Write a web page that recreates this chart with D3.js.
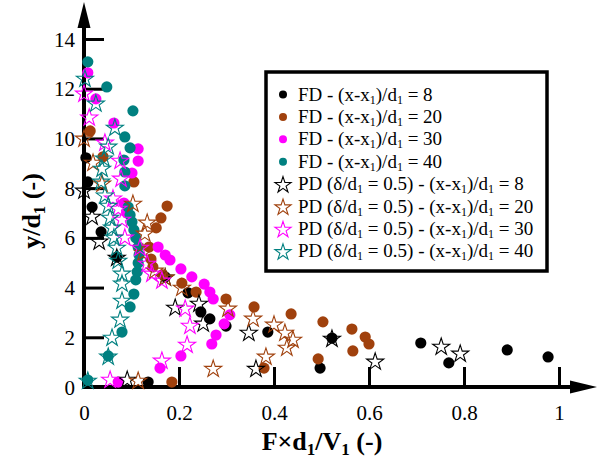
<!DOCTYPE html>
<html><head><meta charset="utf-8">
<script src="https://cdn.jsdelivr.net/npm/d3@7"></script>
<style>body{margin:0;background:#fff}svg{display:block}</style>
</head><body>
<svg id="c" width="600" height="461"></svg>
<script>
const xTicks=[0,0.2,0.4,0.6,0.8,1];
const xTickLabels=["0","0.2","0.4","0.6","0.8","1"];
const yTicks=[0,2,4,6,8,10,12,14];
const yTickLabels=["0","2","4","6","8","10","12","14"];

const fd8=[[0.004,9.22],[0.008,8.25],[0.017,7.24],[0.036,6.24],[0.069,5.23],[0.171,4.43],[0.219,3.79],[0.246,3.02],[0.265,2.74],[0.299,2.45],[0.387,2.21],[0.522,1.97],[0.497,0.76],[0.709,1.77],[0.768,0.97],[0.891,1.49],[0.977,1.21],[0.135,0.2]];
const fd20=[[0.013,10.3],[0.04,9.26],[0.105,8.25],[0.175,7.28],[0.162,6.8],[0.152,6.4],[0.137,5.63],[0.141,5.15],[0.145,4.83],[0.166,4.51],[0.206,4.18],[0.236,3.82],[0.299,3.54],[0.358,3.22],[0.436,2.94],[0.503,2.62],[0.564,2.33],[0.592,2.01],[0.6,1.73],[0.566,1.45],[0.493,1.13],[0.379,0.76],[0.185,0.2]];
const fd30=[[0.008,12.64],[0.025,11.59],[0.063,10.62],[0.114,9.58],[0.114,9.09],[0.101,8.61],[0.084,7.4],[0.091,7.0],[0.156,5.63],[0.171,5.31],[0.181,5.11],[0.204,4.75],[0.227,4.43],[0.253,4.14],[0.265,3.82],[0.272,3.54],[0.307,2.9],[0.295,2.54],[0.278,2.09],[0.269,1.73],[0.204,1.25],[0.16,0.76],[0.072,0.2]];
const fd40=[[0.008,13.08],[0.048,12.07],[0.103,11.11],[0.086,10.06],[0.097,9.62],[0.084,9.13],[0.086,8.65],[0.086,8.09],[0.093,7.24],[0.097,6.92],[0.101,6.64],[0.105,6.32],[0.109,6.0],[0.114,5.63],[0.116,5.31],[0.114,4.99],[0.112,4.63],[0.109,4.31],[0.105,3.74],[0.097,3.22],[0.08,2.21],[0.051,1.25],[0.008,0.28]];
const pd8=[[0.0,7.93],[0.017,6.88],[0.032,5.88],[0.069,5.23],[0.171,4.43],[0.192,3.22],[0.242,3.38],[0.251,2.58],[0.347,2.21],[0.522,1.97],[0.613,1.05],[0.752,1.65],[0.792,1.37],[0.362,0.76],[0.091,0.32]];
const pd20=[[0.0,10.02],[0.019,9.05],[0.038,8.21],[0.103,7.4],[0.133,6.64],[0.128,6.2],[0.124,5.43],[0.149,4.71],[0.171,4.43],[0.206,4.02],[0.303,3.18],[0.356,2.78],[0.4,2.54],[0.423,2.21],[0.44,1.93],[0.427,1.61],[0.383,1.25],[0.272,0.76],[0.114,0.28]];
const pd30=[[0.0,11.83],[0.011,10.87],[0.044,9.86],[0.076,9.13],[0.078,8.41],[0.061,7.61],[0.072,7.2],[0.08,6.76],[0.086,6.04],[0.118,5.63],[0.133,4.99],[0.143,4.59],[0.164,4.31],[0.213,3.18],[0.223,2.49],[0.217,1.73],[0.164,1.09],[0.055,0.32]];
const pd40=[[0.002,12.43],[0.025,11.43],[0.065,10.46],[0.051,9.7],[0.042,9.22],[0.038,8.81],[0.036,8.29],[0.044,7.73],[0.051,7.32],[0.055,6.84],[0.059,6.44],[0.063,6.04],[0.069,5.63],[0.072,5.11],[0.08,4.59],[0.08,4.19],[0.08,3.5],[0.076,2.74],[0.059,2.01],[0.051,1.25],[0.008,0.28]];

const seriesNames=["FD","FD","FD","FD","PD","PD","PD","PD"];
const stations=["8","20","30","40","8","20","30","40"];
const colors=["#000000","#a0410d","#ff00ff","#008080","#000000","#a0410d","#ff00ff","#008080"];
const seriesData=[fd8,fd20,fd30,fd40,pd8,pd20,pd30,pd40];

const svg=d3.select("#c");
const FONT="'Liberation Serif','Times New Roman',serif";
const x=d3.scaleLinear().domain([0,1]).range([84,559]);
const y=d3.scaleLinear().domain([0,14]).range([387,39]);

// axes lines
const ax=svg.append("g");
ax.append("line").attr("x1",x(0)).attr("x2",572).attr("y1",y(0)).attr("y2",y(0)).attr("stroke","#000").attr("stroke-width",4);
ax.append("line").attr("x1",x(0)).attr("x2",x(0)).attr("y1",y(0)+2).attr("y2",25).attr("stroke","#000").attr("stroke-width",4);
ax.append("path").attr("d",`M597,${y(0)}L570,${y(0)-6.5}L570,${y(0)+6.5}Z`).attr("fill","#000");
ax.append("path").attr("d",`M${x(0)},2L${x(0)-6.5},28L${x(0)+6.5},28Z`).attr("fill","#000");

// x ticks
const xAxis=d3.axisBottom(x).tickValues(xTicks).tickSize(0).tickFormat((d,i)=>xTickLabels[i]);
const gx=svg.append("g").attr("transform",`translate(0,${y(0)})`).call(xAxis);
gx.select(".domain").remove();
gx.selectAll("text").attr("font-family",FONT).attr("font-size",21).attr("fill","#000").attr("dy",0).attr("y",33);
gx.selectAll(".tick").filter(d=>d>0).append("line").attr("y1",0).attr("y2",-20).attr("stroke","#000").attr("stroke-width",3);

const yAxis=d3.axisLeft(y).tickValues(yTicks).tickSize(0).tickFormat((d,i)=>yTickLabels[i]);
const gy=svg.append("g").attr("transform",`translate(${x(0)},0)`).call(yAxis);
gy.select(".domain").remove();
gy.selectAll("text").attr("font-family",FONT).attr("font-size",21).attr("fill","#000").attr("x",-9).attr("dy","0.34em");
gy.selectAll(".tick").filter(d=>d>0).append("line").attr("x1",0).attr("x2",20).attr("stroke","#000").attr("stroke-width",3);

// points
const starR=9;
const starPath=d3.symbol(d3.symbolStar,starR*starR/0.8908130915292852);
seriesData.forEach((data,i)=>{
  const g=svg.append("g");
  if(seriesNames[i]==="FD"){
    g.selectAll("circle").data(data).join("circle")
      .attr("cx",d=>x(d[0])).attr("cy",d=>y(d[1])).attr("r",5.6).attr("fill",colors[i]);
  } else {
    g.selectAll("path").data(data).join("path")
      .attr("d",starPath).attr("transform",d=>`translate(${x(d[0])},${y(d[1])+1})`)
      .attr("fill","none").attr("stroke",colors[i]).attr("stroke-width",1.1);
  }
});

// legend
const lg=svg.append("g");
lg.append("rect").attr("x",266).attr("y",72).attr("width",281).attr("height",199).attr("fill","#fff").attr("stroke","#000").attr("stroke-width",3.5);
const legendStar=d3.symbol(d3.symbolStar,8.5*8.5/0.8908130915292852);
seriesData.forEach((data,i)=>{
  const cy=94.5+i*22.4;
  if(seriesNames[i]==="FD"){
    lg.append("circle").attr("cx",283).attr("cy",cy).attr("r",4).attr("fill",colors[i]);
  } else {
    lg.append("path").attr("d",legendStar).attr("transform",`translate(283,${cy+1})`).attr("fill","none").attr("stroke",colors[i]).attr("stroke-width",1.1);
  }
  const t=lg.append("text").attr("x",298).attr("y",cy+6).attr("font-family",FONT).attr("font-size",19).attr("fill","#000");
  if(seriesNames[i]==="PD"){
    t.append("tspan").text("PD (δ/d");
    t.append("tspan").attr("font-size",12).attr("dy",3).text("1");
    t.append("tspan").attr("dy",-3).text(" = 0.5) - (x-x");
  } else {
    t.append("tspan").text("FD - (x-x");
  }
  t.append("tspan").attr("font-size",12).attr("dy",3).text("1");
  t.append("tspan").attr("dy",-3).text(")/d");
  t.append("tspan").attr("font-size",12).attr("dy",3).text("1");
  t.append("tspan").attr("dy",-3).text(" = "+stations[i]);
});

// axis titles
const xt=svg.append("text").attr("x",322).attr("y",450).attr("text-anchor","middle").attr("font-family",FONT).attr("font-size",26).attr("font-weight","bold").attr("fill","#000");
xt.append("tspan").text("F×d");
xt.append("tspan").attr("font-size",17).attr("dy",5).text("1");
xt.append("tspan").attr("dy",-5).text("/V");
xt.append("tspan").attr("font-size",17).attr("dy",5).text("1");
xt.append("tspan").attr("dy",-5).text(" (-)");

const yt=svg.append("text").attr("transform","translate(40,211) rotate(-90)").attr("text-anchor","middle").attr("font-family",FONT).attr("font-size",26).attr("font-weight","bold").attr("fill","#000");
yt.append("tspan").text("y/d");
yt.append("tspan").attr("font-size",17).attr("dy",5).text("1");
yt.append("tspan").attr("dy",-5).text(" (-)");
</script>
</body></html>
